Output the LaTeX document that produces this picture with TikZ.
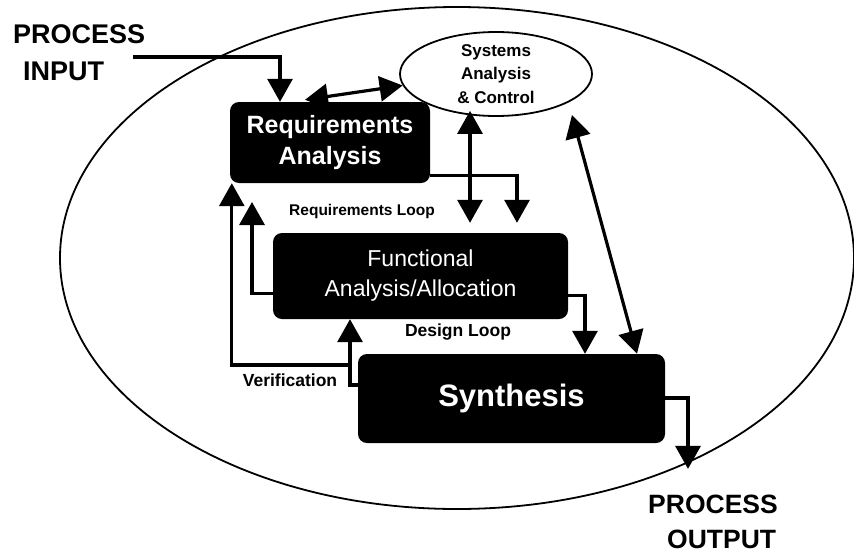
\documentclass[tikz,border=0pt]{standalone}
\usepackage{fontspec}
\setmainfont{Liberation Sans}
\usetikzlibrary{arrows.meta,shapes.geometric,calc}

\begin{document}
\begin{tikzpicture}[x=1pt,y=-1pt,
  box/.style={fill=black, rounded corners=9pt, text=white, align=center, inner sep=0pt},
  flow/.style={line width=3.2pt, -{Triangle[length=23pt,width=25pt]}},
  twoway/.style={line width=3.2pt, {Triangle[length=23pt,width=25pt]}-{Triangle[length=23pt,width=25pt]}},
  bigtext/.style={font=\bfseries\fontsize{27}{31}\selectfont, inner sep=0pt, anchor=base west},
  looplabel/.style={font=\bfseries\fontsize{17.5}{20}\selectfont, inner sep=0pt}
]
\fill[white] (0,0) rectangle (854,552);
\useasboundingbox (0,0) rectangle (854,552);

% process boundary
\node[draw, line width=1.8pt, ellipse, minimum width=794pt, minimum height=502pt, inner sep=0pt] (env) at (457,258) {};

% the three process steps and the control ellipse
\node[box, minimum width=200pt, minimum height=81pt, font=\bfseries\fontsize{25}{31}\selectfont] (req) at (330,142.5) {Requirements\\Analysis};
\node[box, minimum width=295pt, minimum height=86pt, font=\fontsize{23}{30}\selectfont] (func) at (420.5,276) {Functional\\Analysis/Allocation};
\node[box, minimum width=307pt, minimum height=89pt, font=\bfseries\fontsize{31}{36}\selectfont] (syn) at (511.5,398.5) {Synthesis};
\node[draw, line width=1.8pt, ellipse, fill=white, minimum width=192pt, minimum height=84pt, inner sep=0pt, align=center, font=\bfseries\fontsize{17}{23.5}\selectfont] (sac) at (496,74) {Systems\\Analysis\\\& Control};

% input and output labels
\node[bigtext] (pin1) at (13,43) {PROCESS};
\node[bigtext] (pin2) at (23,80) {INPUT};
\node[bigtext, font=\bfseries\fontsize{26.5}{31}\selectfont] (pout1) at (648,513) {PROCESS};
\node[bigtext, font=\bfseries\fontsize{26.5}{31}\selectfont] (pout2) at (667,548) {OUTPUT};

% loop labels
\node[looplabel, font=\bfseries\fontsize{15.5}{18}\selectfont] (lreq) at (362,211) {Requirements Loop};
\node[looplabel] (ldes) at (458,332) {Design Loop};
\node[looplabel] (lver) at (290,380) {Verification};

% free ends of connectors
\coordinate (inStart) at (133,57);
\coordinate (rloopEnd) at (252,202);
\coordinate (sacLow) at (572,115);
\coordinate (vbranch) at (350,365);

% process input
\draw[flow] (inStart) -| ([xshift=-50pt]req.north);

% requirements analysis <-> systems analysis & control
\draw[twoway] ([xshift=-25pt,yshift=2pt]req.north) -- (sac.187);

% systems analysis & control <-> functional analysis
\draw[twoway] ($(sac.south)+(-26,-6)$) -- ($(func.north)+(49.5,-10)$);

% requirements analysis -> functional analysis
\draw[flow] ([yshift=8pt]req.south east) -| ($(func.north)+(96.5,-10)$);

% systems analysis & control <-> synthesis
\draw[twoway] (sacLow) -- ($(syn.north)+(125.5,0)$);

% functional analysis -> synthesis
\draw[flow] ([yshift=24pt]func.south east) -| ($(syn.north)+(73.5,0)$);

% requirements loop
\draw[flow] ([yshift=26pt]func.south west) -| (rloopEnd);

% design loop and verification
\draw[flow] ([yshift=13.5pt]syn.west) -| ($(func.south)+(-70.5,0)$);
\draw[flow] (vbranch) -| ($(req.south west)+(2,0)$);

% process output
\draw[flow] ([yshift=0.5pt]syn.east) -| ($(env.south)+(231,-41)$);
\end{tikzpicture}
\end{document}
